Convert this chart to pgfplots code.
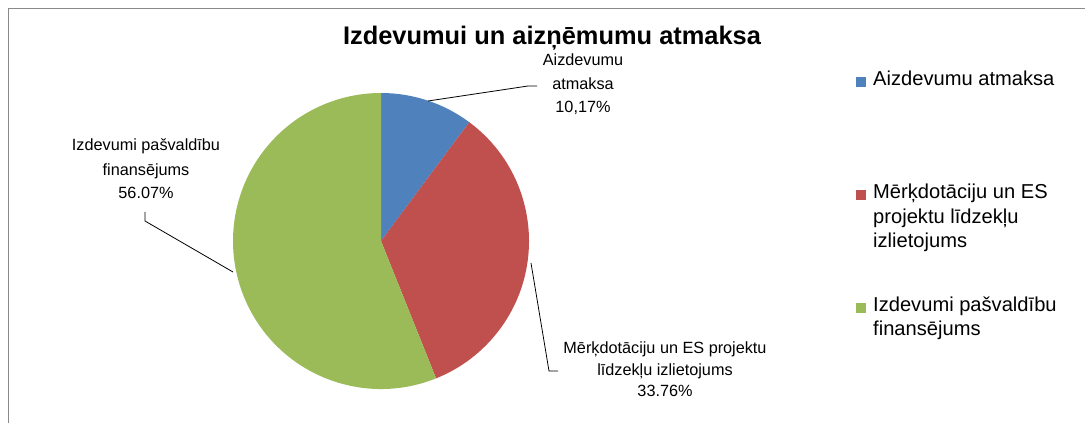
\documentclass[border=0pt]{standalone}
\usepackage{pgfplots}
\pgfplotsset{compat=1.18}
\usepackage{pgfplotstable}
\usepackage{fontspec}
\setmainfont{Liberation Sans}

\definecolor{sliceA}{HTML}{4F81BD}
\definecolor{sliceB}{HTML}{C0504D}
\definecolor{sliceC}{HTML}{9BBB59}
\definecolor{framegray}{HTML}{8A8A8A}

% shares in percent, clockwise from 12 o'clock
\pgfplotstableread{
share
10.17
33.76
56.07
}\piedata

\begin{document}
\begin{tikzpicture}[
    lbl/.style={inner sep=0pt, text height=0.72em, text depth=0pt,
        font=\fontsize{16.3}{20}\selectfont},
    leg/.style={inner sep=0pt, text height=0.72em, text depth=0pt,
        anchor=west, font=\fontsize{20.2}{24}\selectfont},
]
\pgfplotstablegetelem{0}{share}\of\piedata \let\shA\pgfplotsretval
\pgfplotstablegetelem{1}{share}\of\piedata \let\shB\pgfplotsretval
\pgfplotstablegetelem{2}{share}\of\piedata \let\shC\pgfplotsretval
\pgfmathsetmacro{\aA}{90}
\pgfmathsetmacro{\aB}{\aA-3.6*\shA}
\pgfmathsetmacro{\aC}{\aB-3.6*\shB}
\pgfmathsetmacro{\aD}{\aC-3.6*\shC}
\useasboundingbox (0,0) rectangle (1085bp,423bp);
\begin{axis}[
    at={(0,0)}, anchor=south west,
    scale only axis, width=1085bp, height=423bp,
    xmin=0, xmax=1085, ymin=0, ymax=423,
    hide axis, clip=false,
]
% frame
\draw[framegray, line width=1bp] (axis cs:8,0) -- (axis cs:8,414) -- (axis cs:1085,414);

% pie
\fill[sliceA] (axis cs:381,182) -- ++(\aA:148bp)
    arc[start angle=\aA, end angle=\aB, radius=148bp] -- cycle;
\fill[sliceB] (axis cs:381,182) -- ++(\aB:148bp)
    arc[start angle=\aB, end angle=\aC, radius=148bp] -- cycle;
\fill[sliceC] (axis cs:381,182) -- ++(\aC:148bp)
    arc[start angle=\aC, end angle=\aD, radius=148bp] -- cycle;

% title
\node[font=\fontsize{25.5}{30}\selectfont\bfseries] at (axis cs:552,385)
    {Izdevumui un aizņēmumu atmaksa};

% leader lines
\draw[black, line width=0.8bp] (axis cs:428,322) -- (axis cs:528,337) -- (axis cs:537,337);
\draw[black, line width=0.8bp] (axis cs:531,160) -- (axis cs:549,52) -- (axis cs:558,52);
\draw[black, line width=0.8bp] (axis cs:233,151) -- (axis cs:145,202) -- (axis cs:145,211);

% data labels
\node[lbl] at (axis cs:583,361) {Aizdevumu};
\node[lbl] at (axis cs:583,337) {atmaksa};
\node[lbl] at (axis cs:583,314) {10,17\%};
\node[lbl] at (axis cs:665,73) {Mērķdotāciju un ES projektu};
\node[lbl] at (axis cs:665,51) {līdzekļu izlietojums};
\node[lbl] at (axis cs:665,30) {33.76\%};
\node[lbl] at (axis cs:146,276) {Izdevumi pašvaldību};
\node[lbl] at (axis cs:146,251) {finansējums};
\node[lbl] at (axis cs:146,228) {56.07\%};

% legend
\fill[sliceA] (axis cs:856,336) rectangle (axis cs:866,346);
\fill[sliceB] (axis cs:856,223) rectangle (axis cs:866,233);
\fill[sliceC] (axis cs:856,110) rectangle (axis cs:866,120);
\node[leg] at (axis cs:873,341) {Aizdevumu atmaksa};
\node[leg] at (axis cs:873,228) {Mērķdotāciju un ES};
\node[leg] at (axis cs:873,203) {projektu līdzekļu};
\node[leg] at (axis cs:873,179) {izlietojums};
\node[leg] at (axis cs:873,115) {Izdevumi pašvaldību};
\node[leg] at (axis cs:873,91) {finansējums};
\end{axis}
\end{tikzpicture}
\end{document}
